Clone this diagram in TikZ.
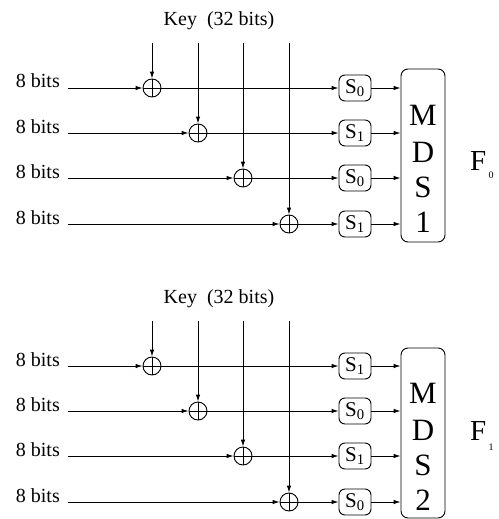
\documentclass[tikz,border=0pt]{standalone}
\usepackage{fontspec}
\setmainfont{Liberation Serif}
\usetikzlibrary{arrows.meta}
\tikzset{
  wire/.style={line width=0.9pt},
  arr/.style={wire,-{Latex[length=7pt,width=4.5pt]}},
  xorop/.style={circle,draw,line width=0.9pt,minimum size=18pt,inner sep=0pt,
    path picture={\draw[line width=0.9pt] (path picture bounding box.north)--(path picture bounding box.south)
      (path picture bounding box.west)--(path picture bounding box.east);}},
  sbox/.style={draw,rounded corners=6pt,line width=0.9pt,minimum width=32pt,minimum height=26pt,
    inner sep=0pt,font=\fontsize{21}{21}\selectfont},
  mdsbox/.style={draw,rounded corners=7pt,line width=0.9pt,minimum width=44pt,inner sep=0pt},
  lbl/.style={font=\fontsize{20}{20}\selectfont,inner sep=0pt,anchor=base east},
  keylbl/.style={font=\fontsize{20}{20}\selectfont,inner sep=0pt},
  bigl/.style={font=\fontsize{31}{31}\selectfont,inner sep=0pt},
  flbl/.style={font=\fontsize{29}{29}\selectfont,inner sep=0pt,anchor=base west},
  fsub/.style={font=\fontsize{10}{10}\selectfont,inner sep=0pt,anchor=base west},
}
\begin{document}
\begin{tikzpicture}[x=1pt,y=-1pt]
\useasboundingbox (0,0) rectangle (498,519);
% top panel MDS box
\node[mdsbox,minimum height=173pt] (mds0) at (423,155.5) {};
\node[bigl] (m01) at (423,115) {M};
\node[bigl] (m02) at (423,152) {D};
\node[bigl] (m03) at (423,187) {S};
\node[bigl] (m04) at (423,222) {1};
\node[flbl] (f0) at (470,170) {F};
\node[fsub] (f0s) at (488.5,178) {0};
% bottom panel MDS box
\node[mdsbox,minimum height=170pt] (mds1) at (423,433) {};
\node[bigl] (m11) at (423,393) {M};
\node[bigl] (m12) at (423,430) {D};
\node[bigl] (m13) at (423,465) {S};
\node[bigl] (m14) at (423,500) {2};
\node[flbl] (f1) at (470,440) {F};
\node[fsub] (f1s) at (488.5,450) {1};
\foreach \p/\dy in {0/0,1/278}{
  \node[keylbl] (key\p) at (219,{21+\dy}) {Key\ \ (32 bits)};
  \foreach \r/\y/\xx in {1/88/152,2/133/198,3/178/243,4/224/289}{
    \pgfmathtruncatemacro{\sidx}{mod(\r+\p+1,2)}
    \node[lbl] (lab\p\r) at (60,{\y+\dy}) {8 bits};
    \coordinate (in\p\r) at (68,{\y+\dy});
    \coordinate (kt\p\r) at (\xx,{43+\dy});
    \node[xorop] (x\p\r) at (\xx,{\y+\dy}) {};
    \node[sbox] (s\p\r) at (355,{\y+\dy}) {S\textsubscript{\sidx}};
    \draw[arr] (kt\p\r) -- (x\p\r);
    \draw[arr] (in\p\r) -- (x\p\r);
    \draw[arr] (x\p\r) -- (s\p\r);
    \draw[arr] (s\p\r) -- (s\p\r -| mds\p.west);
  }
}
\end{tikzpicture}
\end{document}
